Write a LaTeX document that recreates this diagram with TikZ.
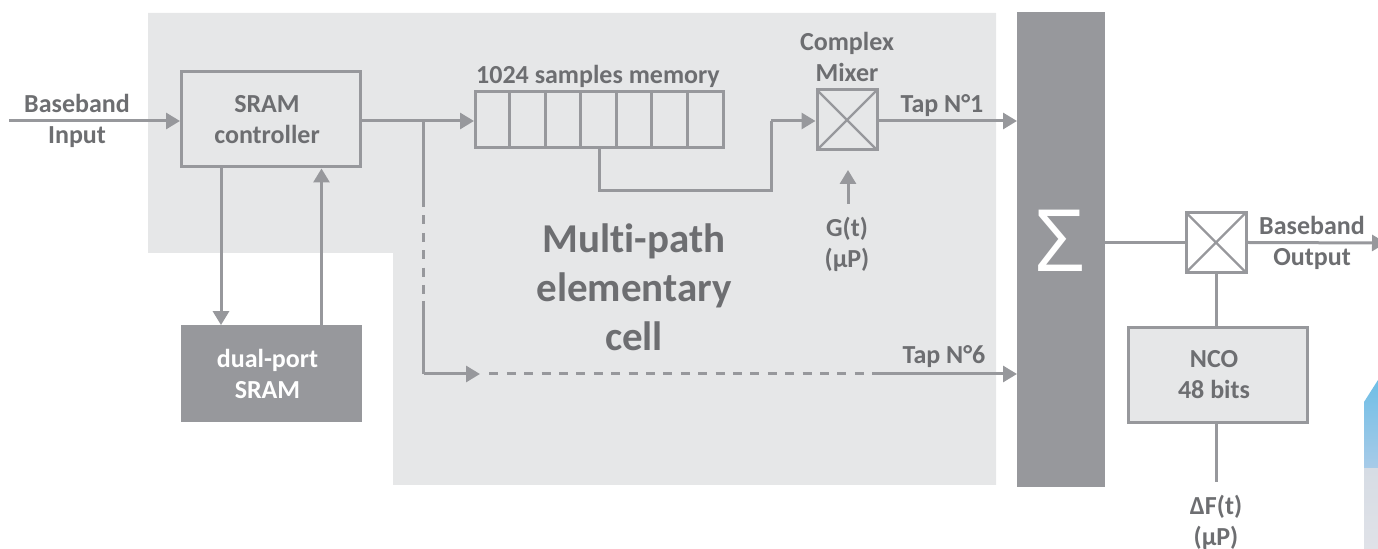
\documentclass[tikz,border=0pt]{standalone}
\usepackage{fontspec}
\setmainfont[Ligatures=CommonOff]{Carlito}
\newfontfamily\sumfont{Open Sans}
\usetikzlibrary{arrows.meta,calc}
\definecolor{linegray}{HTML}{97989C}
\definecolor{textgray}{HTML}{6D6E71}
\definecolor{cellgray}{HTML}{E6E7E8}
\definecolor{skytop}{HTML}{6FBEE6}
\definecolor{skymid}{HTML}{A8CBE8}
\definecolor{hazetop}{HTML}{D6DCE4}
\definecolor{hazelow}{HTML}{E0E2E8}
\newcommand{\pad}{\hspace*{4pt}}
\tikzset{
  every node/.append style={font=\fontsize{13}{15.5}\selectfont\bfseries,text=textgray,align=center,inner sep=0pt},
  wire/.style={draw=linegray,line width=1.5pt},
  dashwire/.style={wire,dash pattern=on 4.5pt off 4.2pt,dash phase=4.5pt},
  blockbox/.style={draw=linegray,line width=1.5pt,fill=cellgray,minimum width=89.5pt,minimum height=47.5pt},
  darkbox/.style={draw=linegray,fill=linegray,text=white,minimum width=90pt,minimum height=48pt},
  mixerbox/.style={draw=linegray,line width=1.5pt,minimum width=30pt,minimum height=30pt,
    path picture={\draw[linegray,line width=1.2pt]
      (path picture bounding box.north west)--(path picture bounding box.south east)
      (path picture bounding box.south west)--(path picture bounding box.north east);}},
}
\begin{document}
\begin{tikzpicture}[x=0.5pt,y=-0.5pt,>={Triangle[length=7pt,width=8pt]}]
      \useasboundingbox (0,0) rectangle (1378,549);
      \fill [cellgray] (148,13)--(996,13)--(996,485)--(393,485)--(393,253)--(148,253)--cycle;

      % the blue corner at the right
      \shade [top color=skytop,bottom color=skymid]
        (1364,402)--(1378,380)--(1378,469)--(1364,469)--cycle;
      \shade [top color=hazetop,bottom color=hazelow] (1364,469) rectangle (1378,549);

      \node[blockbox] (Ctrl) at (271,119.5) {SRAM\pad\\controller\pad};
      \node[darkbox] (Sram) at (271.5,373.5) {dual-port\pad\\SRAM\pad};
      \node[draw=linegray,line width=1.5pt,minimum width=124pt,minimum height=28pt] (Memory) at (599.5,119.5) {};
      \node[mixerbox] (Mixer) at (847,120) {};
      \node[draw=linegray,fill=linegray,minimum width=43.6pt,minimum height=237pt] (Sum) at (1061,249.5) {};
      \node[text=white,font=\fontsize{43}{43}\selectfont\sumfont] (SumSign) at (1060,241) {Σ};
      \node[mixerbox] (OutMixer) at (1216,242.5) {};
      \node[blockbox] (Nco) at (1218,375) {NCO\pad\\48 bits\pad};

      \foreach \i in {1,...,6}
        \draw [wire] ($(Memory.north west)+(\i*35.5,0)$)--($(Memory.south west)+(\i*35.5,0)$);

      \node (BbIn) at (77,121) {Baseband\\Input};
      \node (MemLabel) at (598,76) {1024 samples memory};
      \node (MixLabel) at (847,57) {Complex\\Mixer};
      \node (TapOne) at (942,106) {Tap N°1};
      \node (TapSix) at (944,357) {Tap N°6};
      \node (Gain) at (847,244) {G(t)\\(µP)};
      \node (Cell) at (634,287) [font=\fontsize{20.5}{24.5}\selectfont\bfseries] {Multi-path\\elementary\\cell};
      \node (BbOut) at (1312,243) {Baseband\\Output};
      \node (Delta) at (1216,522) {ΔF(t)\\(µP)};

      \coordinate (InStart) at (9,121);
      \coordinate (Branch) at (423.5,121);
      \coordinate (SolidA) at (423.5,207);
      \coordinate (SolidB) at (423.5,301);
      \coordinate (Corner) at (423.5,374);
      \coordinate (ArrowEnd) at (480,374);
      \coordinate (DashC) at (481,374);
      \coordinate (DashD) at (873,374);
      \coordinate (Bend) at (771,121);
      \coordinate (GainStart) at (848,204);
      \coordinate (GainEnd) at (848,170);
      \coordinate (DeltaEnd) at (1216,482);
      \coordinate (OutEnd) at (1386,243);

      \draw [wire,->] (InStart)--(InStart-|Ctrl.west);
      \draw [wire,->] (Ctrl.east|-Branch)--(Branch-|Memory.west);
      \draw [wire,->] ([xshift=-25pt]Ctrl.south)--([xshift=-25.25pt]Sram.north);
      \draw [wire,<-] ([xshift=25.25pt]Ctrl.south)--([xshift=25pt]Sram.north);
      \draw [wire] (Memory.south)--++(0,42)-|(Bend);
      \draw [wire,->] (Bend)--(Mixer.west|-Bend);
      \draw [wire,->] (Mixer.east|-Branch)--(Sum.west|-Branch);
      \draw [wire,->] (GainStart)--(GainEnd);
      \draw [wire] (Branch)--(SolidA);
      \draw [dashwire] (SolidA)--(SolidB);
      \draw [wire] (SolidB)--(Corner);
      \draw [wire,->] (Corner)--(ArrowEnd);
      \draw [dashwire] (DashC)--(DashD);
      \draw [wire,->] (DashD)--(Sum.west|-DashD);
      \draw [wire] (Sum.east|-OutMixer)--(OutMixer.west);
      \draw [wire,->] (OutMixer.east)--(OutEnd);
      \draw [wire] (OutMixer.south)--(Nco.north-|OutMixer.south);
      \draw [wire] (Nco.south-|OutMixer.south)--(DeltaEnd);
\end{tikzpicture}
\end{document}
